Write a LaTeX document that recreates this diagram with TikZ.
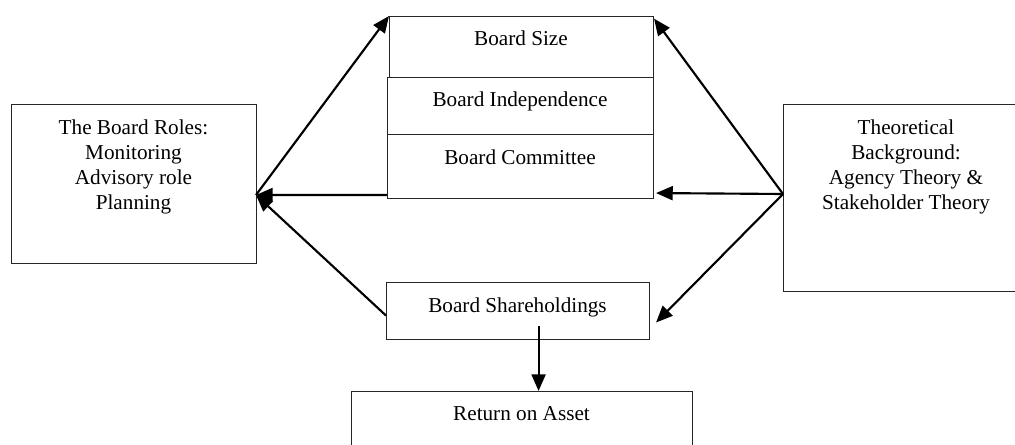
\documentclass[tikz,border=0pt]{standalone}
\usepackage{fontspec}
\setmainfont{Liberation Serif}
\usetikzlibrary{arrows.meta}
\newlength\pxu
\setlength\pxu{0.75pt}
\begin{document}
\begin{tikzpicture}[x=0.75pt,y=-0.75pt,
  box/.style={draw=black!85, line width=0.8pt, anchor=north west, inner sep=0pt},
  txt/.style={font=\fontsize{15.9pt}{18.75pt}\selectfont, inner sep=0pt, align=center, anchor=base},
  arr/.style={line width=1.6pt, -{Triangle[length=12.5pt,width=10.5pt]}}]
\useasboundingbox (0,0) rectangle (1015,445);
\clip (0,0) rectangle (1015,445);

% boxes
\node[box, minimum width=245\pxu, minimum height=159\pxu] (roles) at (11,104) {};
\node[box, minimum width=246\pxu, minimum height=187\pxu] (theory) at (783,104) {};
\node[box, minimum width=264\pxu, minimum height=61\pxu] (size) at (389,16) {};
\node[box, minimum width=266\pxu, minimum height=57\pxu] (indep) at (387,77) {};
\node[box, minimum width=266\pxu, minimum height=64\pxu] (comm) at (387,134) {};
\node[box, minimum width=263\pxu, minimum height=57\pxu] (share) at (386,282) {};
\node[box, minimum width=341\pxu, minimum height=70\pxu] (roa) at (351,391) {};

% texts (multi-line nodes sit on the baseline of their last line)
\node[txt] (rolesT) at (133.5,210) {The Board Roles:\\Monitoring\\Advisory role\\Planning};
\node[txt] (theoryT) at (906,210) {Theoretical\\Background:\\Agency Theory \&\\Stakeholder Theory};
\node[txt] (sizeT) at (521,46) {Board Size};
\node[txt] (indepT) at (520,107) {Board Independence};
\node[txt] (commT) at (520,165) {Board Committee};
\node[txt] (shareT) at (517.5,313) {Board Shareholdings};
\node[txt] (roaT) at (521.5,421) {Return on Asset};

% junction points on the side boxes
\coordinate (rhub) at (256,195);
\coordinate (thub) at (783,194);

% connectors on the left
\draw[arr] (rhub) -- (size.north west);
\draw[arr] ([yshift=3pt]comm.south west) -- (rhub);
\draw[arr] ([yshift=-3.4pt]share.west) -- (rhub);

% connectors on the right
\draw[arr] (thub) -- ([yshift=-2pt]size.north east);
\draw[arr] (thub) -- ([shift={(1.5pt,4.5pt)}]comm.south east);
\draw[arr] (thub) -- ([shift={(4.5pt,-8.6pt)}]share.east);

% down to the outcome
\coordinate (sdrop) at ([shift={(15.4pt,-10.9pt)}]share.center);
\draw[arr] (sdrop) -- (sdrop |- roa.north);
\end{tikzpicture}
\end{document}
